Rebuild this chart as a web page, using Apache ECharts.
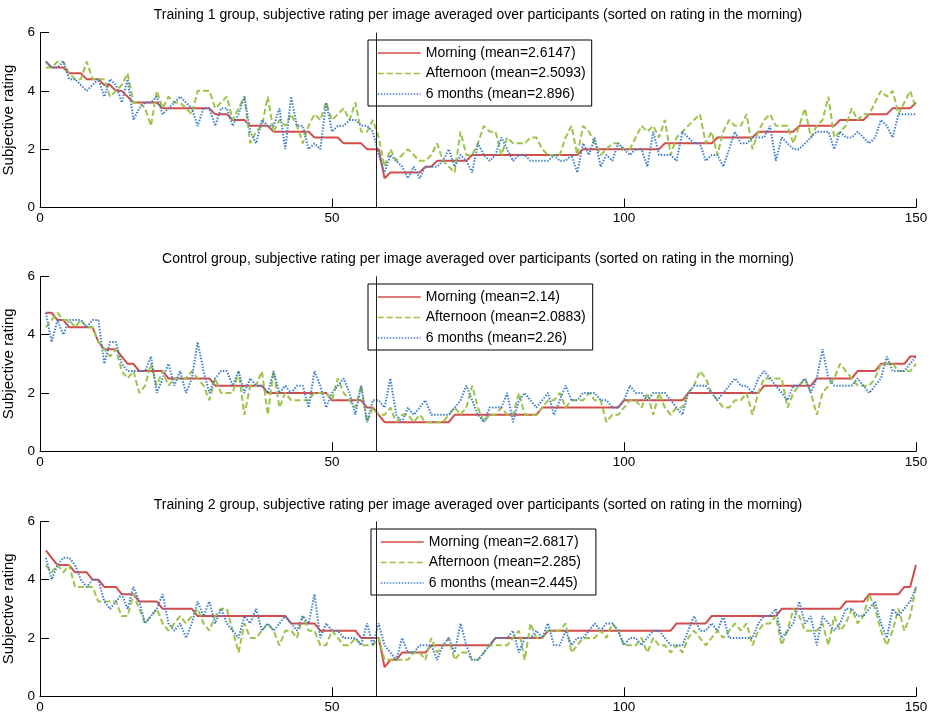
<!DOCTYPE html>
<html><head><meta charset="utf-8">
<script src="https://cdn.jsdelivr.net/npm/echarts@6/dist/echarts.min.js"></script>
<style>html,body{margin:0;padding:0;background:#fff}#c{width:935px;height:716px}</style>
</head><body><div id="c"></div>
<script>
// ---------- data ----------
const titles = [
  'Training 1 group, subjective rating per image averaged over participants (sorted on rating in the morning)',
  'Control group, subjective rating per image averaged over participants (sorted on rating in the morning)',
  'Training 2 group, subjective rating per image averaged over participants (sorted on rating in the morning)'
];
const seriesLabels = ['Morning', 'Afternoon', '6 months'];
const means1 = ['2.6147', '2.5093', '2.896'];
const means2 = ['2.14', '2.0883', '2.26'];
const means3 = ['2.6817', '2.285', '2.445'];
const xTicks = [0, 50, 100, 150];
const yTicks = [0, 2, 4, 6];
const splitX = 57.5;
const imageIndex = [];
for (let i = 1; i <= 150; i++) imageIndex.push(i);

const morning1 = [
5.0,4.8,4.8,4.8,4.6,4.6,4.6,4.4,4.4,4.4,
4.2,4.2,4.0,4.0,3.8,3.6,3.6,3.6,3.6,3.6,
3.4,3.4,3.4,3.4,3.4,3.4,3.4,3.4,3.4,3.2,
3.2,3.2,3.0,3.0,3.0,2.8,2.8,2.8,2.8,2.6,
2.6,2.6,2.6,2.6,2.6,2.6,2.4,2.4,2.4,2.4,
2.4,2.2,2.2,2.2,2.2,2.0,2.0,2.0,1.0,1.2,
1.2,1.2,1.2,1.2,1.2,1.4,1.4,1.6,1.6,1.6,
1.6,1.6,1.6,1.8,1.8,1.8,1.8,1.8,1.8,1.8,
1.8,1.8,1.8,1.8,1.8,1.8,1.8,1.8,1.8,1.8,
1.8,1.8,2.0,2.0,2.0,2.0,2.0,2.0,2.0,2.0,
2.0,2.0,2.0,2.0,2.0,2.0,2.2,2.2,2.2,2.2,
2.2,2.2,2.2,2.2,2.2,2.4,2.4,2.4,2.4,2.4,
2.4,2.4,2.6,2.6,2.6,2.6,2.6,2.6,2.6,2.8,
2.8,2.8,2.8,2.8,2.8,2.8,3.0,3.0,3.0,3.0,
3.0,3.2,3.2,3.2,3.2,3.4,3.4,3.4,3.4,3.6];
const afternoon1 = [
4.8,4.8,5.0,5.0,4.6,4.4,4.4,5.0,4.4,4.4,
4.4,3.8,4.0,4.2,4.6,3.6,3.6,3.4,2.8,4.0,
3.4,3.8,3.6,3.6,3.4,3.2,4.0,4.0,4.0,3.4,
3.6,3.8,3.0,3.4,3.8,2.2,2.6,2.8,3.8,2.6,
3.0,2.8,3.2,2.8,2.2,2.8,3.2,3.0,3.6,3.0,
3.2,3.4,3.0,3.6,2.6,2.6,3.0,2.4,1.4,2.0,
1.6,1.8,2.0,1.8,1.6,1.6,1.8,2.2,1.6,1.4,
1.2,2.6,1.8,1.8,2.2,2.8,2.6,2.6,1.8,2.4,
2.2,2.2,2.2,2.4,2.4,2.0,1.8,1.8,1.8,2.4,
2.8,1.8,2.8,2.6,2.2,1.8,2.0,2.2,2.2,2.0,
2.0,2.4,2.8,2.6,2.8,2.4,3.0,1.8,2.4,2.6,
2.8,3.0,3.2,2.2,2.6,1.8,2.6,3.0,2.8,2.8,
3.2,2.0,2.6,3.0,3.2,2.8,2.8,2.8,2.2,2.8,
3.4,2.4,2.8,3.0,3.8,2.4,2.6,2.8,3.4,3.0,
3.2,3.2,3.6,4.0,3.8,4.0,3.2,3.6,4.0,3.4];
const sixMonths1 = [
5.0,4.8,4.8,5.0,4.4,4.4,4.2,4.0,4.2,4.4,
3.8,4.4,4.2,3.6,4.4,3.0,3.4,3.6,3.6,3.8,
3.2,3.4,3.6,3.8,3.6,3.4,2.8,3.4,3.4,2.8,
3.4,3.4,2.8,3.2,3.8,2.6,2.2,3.0,2.8,2.8,
3.4,2.0,3.8,2.8,2.8,2.0,2.2,2.0,3.6,2.6,
2.8,2.8,3.0,3.0,2.8,2.8,2.6,1.8,1.2,1.8,
1.6,1.4,1.0,1.4,1.0,1.4,1.4,1.4,1.6,2.0,
1.4,1.8,1.6,1.2,2.2,1.8,1.6,1.8,2.4,2.0,
1.6,1.8,1.8,1.6,1.6,1.6,1.6,1.8,1.6,1.6,
1.8,1.2,2.2,1.8,2.4,1.4,1.8,1.6,2.2,2.0,
1.8,2.0,2.0,1.4,2.6,1.8,1.8,1.8,1.6,2.6,
2.4,2.2,2.2,1.6,1.8,1.8,1.4,2.0,2.6,2.2,
2.2,2.4,2.4,2.4,2.8,1.6,2.4,2.2,2.0,2.0,
2.2,2.4,2.6,2.6,2.6,2.0,2.6,2.4,2.4,2.6,
2.4,2.2,2.4,3.0,2.8,2.4,3.2,3.2,3.2,3.2];

const morning2 = [
4.75,4.75,4.5,4.5,4.25,4.25,4.25,4.25,4.25,3.75,
3.5,3.5,3.5,3.25,3.0,3.0,2.75,2.75,2.75,2.75,
2.75,2.5,2.5,2.5,2.5,2.5,2.5,2.5,2.5,2.25,
2.25,2.25,2.25,2.25,2.25,2.25,2.25,2.25,2.0,2.0,
2.0,2.0,2.0,2.0,2.0,2.0,2.0,2.0,2.0,1.75,
1.75,1.75,1.75,1.75,1.75,1.5,1.5,1.25,1.0,1.0,
1.0,1.0,1.0,1.0,1.0,1.0,1.0,1.0,1.0,1.0,
1.25,1.25,1.25,1.25,1.25,1.25,1.25,1.25,1.25,1.25,
1.25,1.25,1.25,1.25,1.25,1.5,1.5,1.5,1.5,1.5,
1.5,1.5,1.5,1.5,1.5,1.5,1.5,1.5,1.5,1.75,
1.75,1.75,1.75,1.75,1.75,1.75,1.75,1.75,1.75,1.75,
2.0,2.0,2.0,2.0,2.0,2.0,2.0,2.0,2.0,2.0,
2.0,2.0,2.0,2.25,2.25,2.25,2.25,2.25,2.25,2.25,
2.25,2.25,2.5,2.5,2.5,2.5,2.5,2.5,2.5,2.75,
2.75,2.75,2.75,3.0,3.0,3.0,3.0,3.0,3.25,3.25];
const afternoon2 = [
4.25,4.5,4.75,4.5,4.5,4.25,4.5,4.25,4.25,3.75,
3.5,3.25,3.5,2.75,2.5,2.75,2.0,2.25,3.0,2.25,
2.75,2.25,2.5,2.5,2.5,2.75,2.5,2.25,1.75,2.5,
2.0,2.0,2.0,2.75,1.25,2.25,2.25,2.75,1.25,2.75,
1.5,2.0,1.75,1.75,1.75,1.75,2.0,2.0,2.0,1.75,
2.5,2.0,1.75,1.5,2.25,1.0,1.5,1.25,1.25,1.5,
1.0,1.25,1.25,1.0,1.25,1.0,1.0,1.0,1.0,1.25,
1.5,1.25,1.5,2.25,1.5,1.0,1.25,1.25,1.5,1.25,
1.25,2.0,1.25,1.25,1.25,1.5,1.75,1.75,2.0,1.5,
1.75,1.75,1.75,2.0,1.75,1.75,1.0,1.25,1.25,1.5,
1.75,1.75,1.5,2.0,1.25,2.0,1.5,1.25,1.5,1.5,
2.0,2.25,2.75,2.5,2.0,1.75,1.5,1.5,1.75,1.75,
2.0,1.25,2.0,2.5,2.5,2.5,2.5,1.5,2.0,2.25,
2.5,2.0,1.25,2.0,2.25,2.5,3.0,2.75,2.5,2.25,
2.25,2.25,2.5,3.0,3.0,3.0,2.75,2.75,2.75,3.0];
const sixMonths2 = [
4.75,3.75,4.5,4.0,4.5,4.5,4.5,4.25,4.5,4.5,
3.0,3.75,3.75,3.0,2.75,2.75,2.75,2.75,3.25,2.0,
2.5,3.0,2.25,2.75,2.0,2.5,3.75,2.75,2.0,2.5,
2.75,2.75,2.25,2.75,2.0,2.5,2.25,2.25,2.0,2.75,
2.0,2.25,2.0,2.25,2.25,1.5,2.75,2.25,1.5,2.0,
2.25,2.5,2.0,1.25,2.25,1.0,1.75,1.75,1.5,2.5,
1.25,1.0,1.5,1.25,1.5,1.75,1.25,1.25,1.25,1.25,
1.5,1.75,2.25,1.75,1.25,1.0,1.5,1.5,1.5,2.0,
1.0,1.75,2.0,1.75,1.5,1.75,2.0,1.25,1.75,2.25,
1.75,1.75,2.0,2.0,2.0,1.75,1.75,1.5,1.5,1.75,
2.25,2.0,2.0,1.75,2.0,2.0,2.0,1.75,1.5,1.25,
2.0,2.25,2.25,2.25,2.0,1.75,2.0,2.25,2.5,2.25,
2.25,2.0,2.5,2.75,2.5,2.25,2.0,1.75,2.25,2.25,
2.5,2.0,2.5,3.5,2.5,2.25,2.25,2.25,2.25,2.5,
2.25,2.0,2.25,2.5,3.25,2.75,2.75,2.75,3.0,3.25];

const morning3 = [
5.0,4.75,4.5,4.5,4.5,4.25,4.25,4.25,4.0,4.0,
3.75,3.75,3.75,3.5,3.5,3.5,3.25,3.25,3.25,3.25,
3.0,3.0,3.0,3.0,3.0,3.0,2.75,2.75,2.75,2.75,
2.75,2.75,2.75,2.75,2.75,2.75,2.75,2.75,2.75,2.75,
2.75,2.75,2.5,2.5,2.5,2.5,2.5,2.25,2.25,2.25,
2.25,2.25,2.25,2.25,2.0,2.0,2.0,2.0,1.0,1.25,
1.25,1.5,1.5,1.5,1.5,1.5,1.75,1.75,1.75,1.75,
1.75,1.75,1.75,1.75,1.75,1.75,1.75,2.0,2.0,2.0,
2.0,2.0,2.0,2.0,2.0,2.0,2.25,2.25,2.25,2.25,
2.25,2.25,2.25,2.25,2.25,2.25,2.25,2.25,2.25,2.25,
2.25,2.25,2.25,2.25,2.25,2.25,2.25,2.25,2.5,2.5,
2.5,2.5,2.5,2.5,2.75,2.75,2.75,2.75,2.75,2.75,
2.75,2.75,2.75,2.75,2.75,2.75,3.0,3.0,3.0,3.0,
3.0,3.0,3.0,3.0,3.0,3.0,3.0,3.25,3.25,3.25,
3.25,3.5,3.5,3.5,3.5,3.5,3.5,3.75,3.75,4.5];
const afternoon3 = [
4.5,4.25,4.5,4.25,4.5,3.75,3.75,3.75,3.75,3.25,
3.25,3.25,3.25,2.75,2.75,3.5,3.0,2.5,2.75,3.0,
2.5,2.25,2.5,2.75,2.5,2.75,3.0,2.5,2.25,2.75,
3.0,3.0,2.25,1.5,2.5,2.0,2.0,2.25,2.5,2.25,
1.75,2.25,2.25,2.0,2.75,2.25,2.25,1.75,1.75,2.25,
2.0,1.75,1.75,2.0,1.75,1.75,1.75,2.0,1.25,1.25,
1.25,1.25,1.25,1.5,1.5,1.25,2.0,1.5,1.75,2.0,
1.25,1.5,1.5,1.25,1.25,1.5,1.75,1.75,1.75,1.75,
2.0,2.25,1.25,2.5,2.0,2.0,2.25,2.25,2.25,2.5,
1.5,1.75,2.0,2.0,2.0,2.25,2.0,2.5,2.25,1.75,
1.75,1.75,2.0,1.5,2.0,1.75,1.75,1.5,1.75,1.5,
2.0,2.25,2.0,1.75,2.0,2.25,2.0,2.25,2.5,2.25,
2.5,1.75,2.25,2.5,2.5,2.75,1.75,2.25,3.0,2.75,
2.25,2.25,2.25,2.5,1.75,2.75,2.25,2.5,3.0,2.5,
2.75,3.5,3.0,2.25,1.75,2.25,3.0,2.25,2.75,3.75];
const sixMonths3 = [
4.75,4.0,4.5,4.75,4.75,4.5,4.0,3.75,4.0,4.0,
3.25,3.0,3.25,3.5,3.0,3.75,3.25,2.5,2.75,3.0,
3.5,2.5,2.25,2.5,2.0,2.5,3.25,2.75,3.25,2.5,
3.0,2.5,2.25,2.0,2.75,2.5,3.0,2.25,2.5,2.25,
2.5,2.75,2.5,2.25,2.75,2.5,3.5,2.0,2.5,2.25,
2.25,2.0,2.0,2.0,1.75,2.5,1.75,2.5,1.75,1.5,
1.25,2.0,1.5,1.5,1.75,1.75,1.75,1.25,1.75,2.0,
1.5,2.5,1.75,1.25,1.25,1.5,1.75,2.0,2.0,2.0,
2.25,1.5,2.0,2.0,2.25,2.0,2.5,1.75,1.75,2.25,
1.75,2.0,2.0,2.25,2.5,2.25,2.5,2.5,2.25,1.75,
2.0,2.0,1.75,2.0,2.25,2.25,2.0,1.75,1.75,1.75,
2.25,2.75,2.25,2.25,2.5,2.25,2.75,2.0,2.0,2.0,
2.0,2.0,2.5,2.75,2.75,3.0,2.0,2.25,2.5,3.25,
2.5,2.75,1.75,2.75,2.5,2.25,2.5,3.0,3.0,2.75,
2.75,3.0,3.25,2.5,2.0,3.0,2.75,3.0,3.25,3.75];

// ---------- layout / style ----------
const FONT = "'Liberation Sans', Arial, Helvetica, sans-serif";
const colors = ['#d44c4a', '#9cc34a', '#3f7fcc'];
const lineTypes = ['solid', [6, 3], [1.5, 1.5]];
const panelDefs = [
  { data: [morning1, afternoon1, sixMonths1], means: means1, top: 32.5, legendLeft: 368, legendTop: 40, legendPadRight: 6, titleTop: 8 },
  { data: [morning2, afternoon2, sixMonths2], means: means2, top: 276.3, legendLeft: 368, legendTop: 284, legendPadRight: 7, titleTop: 252 },
  { data: [morning3, afternoon3, sixMonths3], means: means3, top: 521.3, legendLeft: 371, legendTop: 529, legendPadRight: 15, titleTop: 498 }
];
const plotLeft = 40, plotWidth = 876, plotHeight = 175;

const grid = [], xAxis = [], yAxis = [], series = [], legend = [], title = [];
panelDefs.forEach((p, i) => {
  grid.push({ left: plotLeft, width: plotWidth, top: p.top, height: plotHeight, containLabel: false, outerBoundsMode: 'none' });
  title.push({
    text: titles[i], left: plotLeft + plotWidth / 2, top: p.titleTop, textAlign: 'center', padding: 0,
    textStyle: { fontFamily: FONT, fontSize: 14, fontWeight: 'normal', color: '#000' }
  });
  xAxis.push({
    type: 'value', gridIndex: i, min: xTicks[0], max: xTicks[xTicks.length - 1], interval: xTicks[1] - xTicks[0],
    axisLine: { show: true, onZero: false, lineStyle: { color: '#000', width: 1 } },
    axisTick: { show: true, inside: true, length: 9, lineStyle: { color: '#000', width: 1 } },
    axisLabel: { color: '#000', fontSize: 13.5, fontFamily: FONT, margin: 4 },
    splitLine: { show: false }
  });
  yAxis.push({
    type: 'value', gridIndex: i, min: yTicks[0], max: yTicks[yTicks.length - 1], interval: yTicks[1] - yTicks[0],
    name: 'Subjective rating', nameLocation: 'middle', nameGap: 14,
    nameTextStyle: { color: '#000', fontSize: 15, fontFamily: FONT },
    axisLine: { show: true, onZero: false, lineStyle: { color: '#000', width: 1 } },
    axisTick: { show: true, inside: true, length: 9, lineStyle: { color: '#000', width: 1 } },
    axisLabel: { color: '#000', fontSize: 13.5, fontFamily: FONT, margin: 5 },
    splitLine: { show: false }
  });
  const names = seriesLabels.map((s, k) => s + ' (mean=' + p.means[k] + ')');
  p.data.forEach((vals, k) => {
    const s = {
      type: 'line', name: names[k], xAxisIndex: i, yAxisIndex: i,
      data: imageIndex.map((x, j) => [x, vals[j]]),
      symbol: 'none', showSymbol: false, animation: false, silent: true,
      lineStyle: { color: colors[k], width: 2, type: lineTypes[k], cap: 'butt' },
      itemStyle: { color: colors[k] },
      z: 2 + k
    };
    if (k === 2) {
      s.markLine = {
        silent: true, symbol: ['none', 'none'], animation: false,
        label: { show: false },
        lineStyle: { color: '#222', width: 1, type: 'solid' },
        data: [{ xAxis: splitX }]
      };
    }
    series.push(s);
  });
  legend.push({
    data: names, orient: 'vertical', left: p.legendLeft, top: p.legendTop,
    itemWidth: 43, itemHeight: 14, itemGap: 6.5, padding: [6, p.legendPadRight, 5, 9],
    borderColor: '#000', borderWidth: 1, backgroundColor: '#fff',
    selectedMode: false,
    itemStyle: { opacity: 0 },
    lineStyle: { width: 1.5 },
    textStyle: { color: '#000', fontSize: 14, fontFamily: FONT }
  });
});

const chart = echarts.init(document.getElementById('c'), null, { renderer: 'canvas' });
chart.setOption({ animation: false, backgroundColor: '#fff', title, grid, xAxis, yAxis, legend, series });
</script>
</body></html>
